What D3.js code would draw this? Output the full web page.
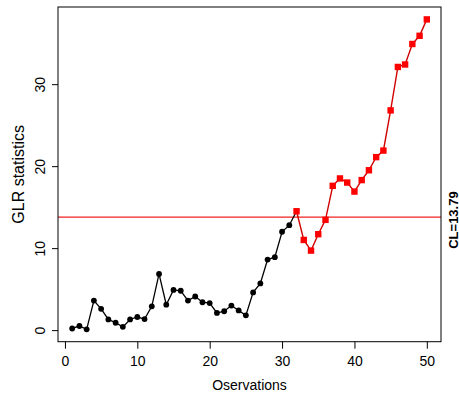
<!DOCTYPE html>
<html>
<head>
<meta charset="utf-8">
<script src="https://cdn.jsdelivr.net/npm/d3@7"></script>
<style>
  body { margin: 0; background: #fff; }
  text { font-family: "Liberation Sans", Arial, sans-serif; fill: #000; }
</style>
</head>
<body>
<div id="chart"></div>
<script>
const observations = d3.range(1, 51);
const glr = [
  0.2, 0.5, 0.1, 3.6, 2.6, 1.3, 0.9, 0.4, 1.3, 1.6,
  1.35, 2.9, 6.85, 3.1, 4.9, 4.8, 3.6, 4.1, 3.4, 3.3,
  2.1, 2.3, 3.0, 2.4, 1.8, 4.6, 5.7, 8.6, 8.9, 12.0,
  12.8, 14.5, 11.0, 9.7, 11.7, 13.45, 17.6, 18.5, 18.0, 16.9,
  18.3, 19.5, 21.1, 21.9, 26.8, 32.1, 32.4, 34.9, 35.9, 37.9
];
const controlLimit = 13.79;
const firstAlarm = 32; // first observation above the limit
const xTicks = [0, 10, 20, 30, 40, 50];
const yTicks = [0, 10, 20, 30];

const width = 459, height = 398;
const plot = { left: 58, right: 441, top: 7, bottom: 341.7 };

const svg = d3.select('#chart')
  .append('svg')
    .attr('width', width)
    .attr('height', height);

// R-style 4% padding on the data range
const pad = (ext) => {
  const d = (ext[1] - ext[0]) * 0.04;
  return [ext[0] - d, ext[1] + d];
};

const x = d3.scaleLinear()
  .domain(pad(d3.extent(observations)))
  .range([plot.left, plot.right]);

const y = d3.scaleLinear()
  .domain(pad(d3.extent(glr)))
  .range([plot.bottom, plot.top]);

const points = observations.map((o, i) => ({ o, v: glr[i] }));
const before = points.filter(p => p.o <= firstAlarm);   // black line runs up to the first alarm
const normal = points.filter(p => p.o < firstAlarm);
const alarm = points.filter(p => p.o >= firstAlarm);

// X axis
svg.append('g')
  .attr('transform', `translate(0,${plot.bottom})`)
  .call(d3.axisBottom(x).tickValues(xTicks).tickSize(7).tickPadding(7))
  .call(g => g.select('.domain').remove())
  .call(g => g.selectAll('text').style('font-size', '14px'))
  .call(g => g.selectAll('line').attr('stroke', '#000'));

// Y axis, labels parallel to the axis as in R
svg.append('g')
  .attr('transform', `translate(${plot.left},0)`)
  .call(d3.axisLeft(y).tickValues(yTicks).tickSize(6))
  .call(g => g.select('.domain').remove())
  .call(g => g.selectAll('line').attr('stroke', '#000'))
  .call(g => g.selectAll('text')
    .attr('x', 0)
    .attr('dy', null)
    .attr('text-anchor', 'middle')
    .attr('transform', 'translate(-13,0) rotate(-90)')
    .style('font-size', '14px'));

// Control limit
svg.append('line')
  .attr('x1', plot.left)
  .attr('x2', plot.right)
  .attr('y1', y(controlLimit))
  .attr('y2', y(controlLimit))
  .attr('stroke', '#f02020')
  .attr('stroke-width', 1.3);

const line = d3.line().x(d => x(d.o)).y(d => y(d.v));

svg.append('path')
  .datum(before)
  .attr('d', line)
  .attr('fill', 'none')
  .attr('stroke', '#000')
  .attr('stroke-width', 1.3);

svg.append('path')
  .datum(alarm)
  .attr('d', line)
  .attr('fill', 'none')
  .attr('stroke', '#d00000')
  .attr('stroke-width', 1.4);

svg.selectAll('circle.pt')
  .data(normal)
  .enter()
  .append('circle')
    .attr('class', 'pt')
    .attr('cx', d => x(d.o))
    .attr('cy', d => y(d.v))
    .attr('r', 2.9)
    .attr('fill', '#000');

const sq = 6.4;
svg.selectAll('rect.alarm')
  .data(alarm)
  .enter()
  .append('rect')
    .attr('class', 'alarm')
    .attr('x', d => x(d.o) - sq / 2)
    .attr('y', d => y(d.v) - sq / 2)
    .attr('width', sq)
    .attr('height', sq)
    .attr('fill', '#ff0000');

// Box
svg.append('rect')
  .attr('x', plot.left)
  .attr('y', plot.top)
  .attr('width', plot.right - plot.left)
  .attr('height', plot.bottom - plot.top)
  .attr('fill', 'none')
  .attr('stroke', '#000')
  .attr('stroke-width', 1);

// Titles
svg.append('text')
  .attr('x', (plot.left + plot.right) / 2)
  .attr('y', 390)
  .attr('text-anchor', 'middle')
  .style('font-size', '14px')
  .text('Oservations');

svg.append('text')
  .attr('transform', `translate(23.5,${(plot.top + plot.bottom) / 2}) rotate(-90)`)
  .attr('text-anchor', 'middle')
  .style('font-size', '16px')
  .text('GLR statistics');

svg.append('text')
  .attr('transform', `translate(457.5,${y(controlLimit) + 3}) rotate(-90)`)
  .attr('text-anchor', 'middle')
  .style('font-size', '13px')
  .style('font-weight', 'bold')
  .text('CL=13.79');
</script>
</body>
</html>
